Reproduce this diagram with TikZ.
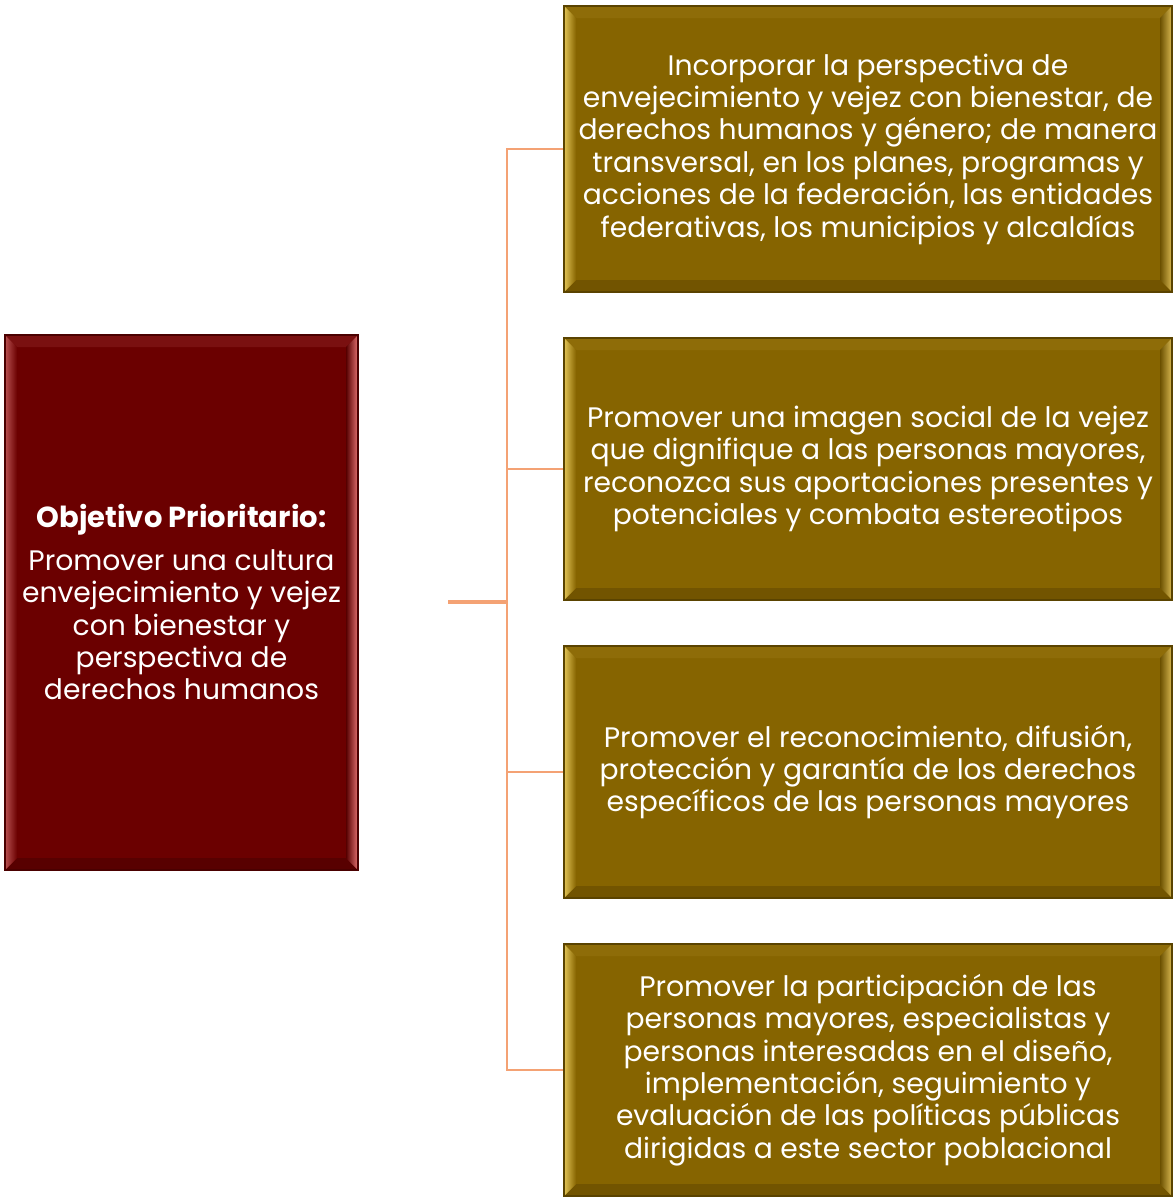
\documentclass[tikz,border=0pt]{standalone}
\usepackage{fontspec}
\setmainfont{Poppins}
\usetikzlibrary{calc}
\definecolor{goldfill}{HTML}{866400}
\definecolor{golddk}{HTML}{5A4300}
\definecolor{goldL}{HTML}{E2C455}
\definecolor{goldT}{HTML}{8E6C08}
\definecolor{goldR}{HTML}{D8B850}
\definecolor{goldB}{HTML}{725400}
\definecolor{redfill}{HTML}{6B0000}
\definecolor{reddk}{HTML}{4A0000}
\definecolor{redL}{HTML}{B85050}
\definecolor{redT}{HTML}{7A1010}
\definecolor{redR}{HTML}{E27070}
\definecolor{redB}{HTML}{580000}
\definecolor{conn}{HTML}{F4A274}
\newcommand\bevpic[5]{%
  \path (path picture bounding box.north west) coordinate (pnw)
        (path picture bounding box.north east) coordinate (pne)
        (path picture bounding box.south west) coordinate (psw)
        (path picture bounding box.south east) coordinate (pse);
  \fill[#2] (pnw) -- (pne) -- ($(pne)+(-12,-12)$) -- ($(pnw)+(12,-12)$) -- cycle;
  \fill[#4] (psw) -- (pse) -- ($(pse)+(-12,12)$) -- ($(psw)+(12,12)$) -- cycle;
  \shade[left color=#1, right color=#5] (pnw) -- ($(pnw)+(12,-12)$) -- ($(psw)+(12,12)$) -- (psw) -- cycle;
  \shade[left color=#5!80!black, right color=#3] (pne) -- (pse) -- ($(pse)+(-12,12)$) -- ($(pne)+(-12,-12)$) -- cycle;
}
\tikzset{
  boxtext/.style={text=white, align=center, inner sep=0pt, font=\fontsize{28.2}{32.4}\selectfont},
  goldbox/.style={boxtext, draw=golddk, line width=1.2pt, fill=goldfill,
     minimum width=608, path picture={\bevpic{goldL}{goldT}{goldR}{goldB}{goldfill}}},
  redbox/.style={boxtext, draw=reddk, line width=1.2pt, fill=redfill,
     minimum width=353, path picture={\bevpic{redL}{redT}{redR}{redB}{redfill}}},
  link/.style={draw=conn, line width=2.2pt},
}
\begin{document}
\begin{tikzpicture}[x=1pt,y=1pt]
\useasboundingbox[fill=white] (0,0) rectangle (1174,-1197);
\node[redbox, minimum height=535] (obj) at (181.5,-602.5)
  {{\fontsize{29}{32.4}\selectfont\textbf{Objetivo Prioritario:}}\\[10pt]
   Promover una cultura\\ envejecimiento y vejez\\ con bienestar y\\ perspectiva de\\ derechos humanos};
\node[goldbox, minimum height=286] (b1) at (868,-149)
  {Incorporar la perspectiva de\\ envejecimiento y vejez con bienestar, de\\ derechos humanos y género; de manera\\ transversal, en los planes, programas y\\ acciones de la federación, las entidades\\ federativas, los municipios y alcaldías};
\node[goldbox, minimum height=262] (b2) at (868,-469)
  {Promover una imagen social de la vejez\\ que dignifique a las personas mayores,\\ reconozca sus aportaciones presentes y\\ potenciales y combata estereotipos};
\node[goldbox, minimum height=252] (b3) at (868,-772)
  {Promover el reconocimiento, difusión,\\ protección y garantía de los derechos\\ específicos de las personas mayores};
\node[goldbox, minimum height=252] (b4) at (868,-1070)
  {Promover la participación de las\\ personas mayores, especialistas y\\ personas interesadas en el diseño,\\ implementación, seguimiento y\\ evaluación de las políticas públicas\\ dirigidas a este sector poblacional};
\coordinate (stub) at (448,-602);
\coordinate (bus) at (507,-602);
\draw[link, line width=3.2pt] (stub) -- (bus);
\draw[link] (bus) |- (b1.west);
\draw[link] (bus) |- (b2.west);
\draw[link] (bus) |- (b3.west);
\draw[link] (bus) |- (b4.west);
\end{tikzpicture}
\end{document}
